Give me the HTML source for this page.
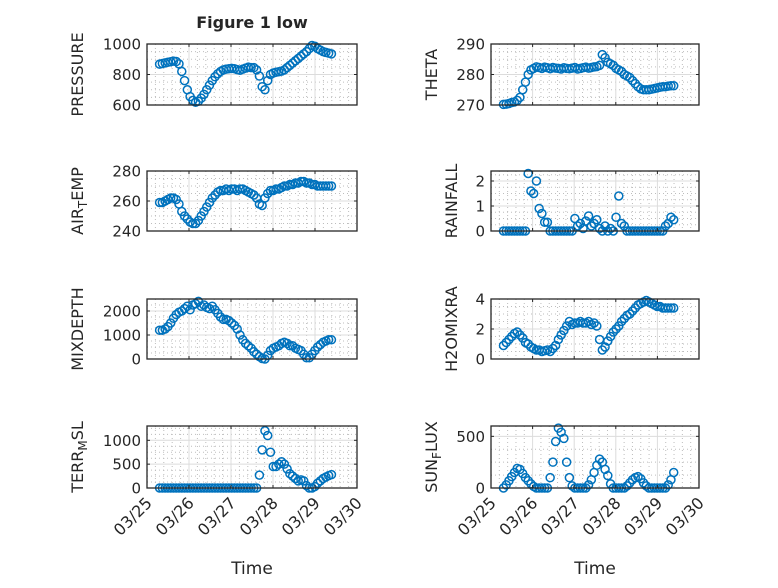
<!DOCTYPE html>
<html><head><meta charset="utf-8"><style>
html,body{margin:0;padding:0;background:#fff;}
svg text{font-family:"DejaVu Sans","Liberation Sans",sans-serif;fill:#262626;}
</style></head><body>
<svg id="fig" width="778" height="583" viewBox="0 0 778 583" xmlns="http://www.w3.org/2000/svg">
<rect width="778" height="583" fill="#fff"/>
<text x="252" y="28" text-anchor="middle" font-size="16" font-weight="bold">Figure 1 low</text>
</svg>
<script>
const dateTicks = ["03/25","03/26","03/27","03/28","03/29","03/30"];
const tStart = 0.3;
const tStep = 0.066;
const pressure = [868,872,876,880,884,888,885,870,820,760,700,655,630,618,625,645,670,700,730,760,785,805,820,830,835,838,840,838,832,828,835,842,848,845,845,830,790,720,700,760,800,810,815,818,822,830,845,860,875,890,905,920,935,950,970,990,985,970,960,950,945,940,935];
const theta = [270.2,270.3,270.5,270.8,271,271.5,272.5,275,277.5,280,281.5,282,282.5,282.3,282,282.4,282.2,281.9,282.3,282.1,282,281.8,282.2,282,281.9,282.1,282.3,281.8,282,282.2,282.4,282.1,282.3,282.5,282.6,283,286.5,285.5,284,283.5,283,282,281.5,281,280,279.5,279,278,277,276,275.3,275,275,275,275.2,275.4,275.6,275.8,276,276,276.2,276.3,276.3];
const airTemp = [259,259,260,261,262,262,261,258,253,250,248,246,245,245,247,250,253,256,259,262,264,266,267,267,268,267,268,268,267,268,268,267,266,265,264,262,258,257,262,265,267,267,268,268,269,270,270,271,271,272,272,273,273,272,272,271,271,270,270,270,270,270,270];
const rainfall = [0,0,0,0,0,0,0,0,0,2.3,1.6,1.5,2.0,0.9,0.7,0.35,0.35,0,0,0,0,0,0,0,0,0,0.5,0.2,0.3,0.1,0.4,0.6,0.2,0.3,0.45,0.1,0,0.2,0,0.1,0,0.55,1.4,0.3,0.2,0,0,0,0,0,0,0,0,0,0,0,0,0,0,0.2,0.3,0.55,0.45];
const mixDepth = [1200,1200,1250,1350,1500,1700,1850,1950,2000,2100,2200,2050,2250,2300,2400,2200,2250,2150,2100,2200,2050,1900,1750,1650,1650,1600,1500,1400,1250,1000,800,650,550,450,300,200,100,20,0,150,350,450,500,550,650,700,650,550,550,450,400,350,200,50,50,200,350,500,600,700,750,800,800];
const h2oMixRatio = [0.9,1.1,1.3,1.5,1.7,1.8,1.6,1.4,1.1,1.0,0.8,0.7,0.6,0.6,0.5,0.55,0.6,0.5,0.7,0.9,1.3,1.6,1.9,2.2,2.5,2.3,2.4,2.4,2.5,2.4,2.4,2.5,2.3,2.4,2.2,1.3,0.6,0.8,1.2,1.5,1.8,2.0,2.2,2.5,2.7,2.9,3.0,3.2,3.4,3.6,3.7,3.8,3.9,3.8,3.7,3.6,3.5,3.5,3.4,3.4,3.4,3.4,3.4];
const terrMsl = [0,0,0,0,0,0,0,0,0,0,0,0,0,0,0,0,0,0,0,0,0,0,0,0,0,0,0,0,0,0,0,0,0,0,0,0,270,800,1200,1100,750,450,450,500,550,500,400,300,250,200,150,170,150,50,0,0,30,100,150,200,230,260,280];
const sunFlux = [0,30,70,110,150,190,180,140,100,70,40,15,0,0,0,0,0,100,250,450,580,540,480,250,100,20,0,0,0,0,0,30,80,150,220,280,250,180,120,40,0,0,0,0,0,20,50,80,100,110,90,50,20,0,0,0,0,0,0,0,30,80,150];

const NS="http://www.w3.org/2000/svg";
const svg=document.getElementById('fig');
function mk(tag,attrs,parent){const e=document.createElementNS(NS,tag);for(const k in attrs)e.setAttribute(k,attrs[k]);(parent||svg).appendChild(e);return e;}

const panels=[
 {key:'pressure',data:pressure,label:['PRESSURE'],x0:147,x1:357,y0:44,y1:105,ymin:600,ymax:1000,ticks:[600,800,1000],ylx:83,bottom:false},
 {key:'theta',data:theta,label:['THETA'],x0:491,x1:699,y0:44,y1:105,ymin:270,ymax:290,ticks:[270,280,290],ylx:437,bottom:false},
 {key:'air-temp',data:airTemp,label:['AIR','T','EMP'],x0:147,x1:357,y0:171,y1:231,ymin:240,ymax:280,ticks:[240,260,280],ylx:83,bottom:false},
 {key:'rainfall',data:rainfall,label:['RAINFALL'],x0:491,x1:699,y0:171,y1:231,ymin:0,ymax:2.4,ticks:[0,1,2],ylx:457,bottom:false},
 {key:'mixdepth',data:mixDepth,label:['MIXDEPTH'],x0:147,x1:357,y0:299,y1:359,ymin:0,ymax:2500,ticks:[0,1000,2000],ylx:83,bottom:false},
 {key:'h2o-mixratio',data:h2oMixRatio,label:['H2OMIXRA'],x0:491,x1:699,y0:299,y1:359,ymin:0,ymax:4,ticks:[0,2,4],ylx:457,bottom:false},
 {key:'terr-msl',data:terrMsl,label:['TERR','M','SL'],x0:147,x1:357,y0:426,y1:488,ymin:0,ymax:1300,ticks:[0,500,1000],ylx:83,bottom:true},
 {key:'sun-flux',data:sunFlux,label:['SUN','F','LUX'],x0:491,x1:699,y0:426,y1:488,ymin:0,ymax:600,ticks:[0,500],ylx:437,bottom:true}
];

panels.forEach(p=>{
  const g=mk('g',{});
  
  
  const nd=dateTicks.length-1;
  const xs=t=>p.x0+(p.x1-p.x0)*t/nd;
  const ys=v=>p.y1-(p.y1-p.y0)*(v-p.ymin)/(p.ymax-p.ymin);
  mk('rect',{x:p.x0,y:p.y0,width:p.x1-p.x0,height:p.y1-p.y0,fill:'#fff'},g);
  for(let d=0;d<nd;d++)for(let k=1;k<5;k++){const x=xs(d+k/5);mk('line',{x1:x,x2:x,y1:p.y0,y2:p.y1,stroke:'#bdbdbd','stroke-width':1,'stroke-dasharray':'1 3'},g);}
  const tstep=p.ticks[1]-p.ticks[0];
  for(let v=p.ticks[0]-tstep;v<p.ymax;v+=tstep)for(let k=1;k<4;k++){const vv=v+k*tstep/4;if(vv<=p.ymin||vv>=p.ymax)continue;const y=ys(vv);mk('line',{x1:p.x0,x2:p.x1,y1:y,y2:y,stroke:'#bdbdbd','stroke-width':1,'stroke-dasharray':'1 3'},g);}
  for(let d=1;d<nd;d++){const x=xs(d);mk('line',{x1:x,x2:x,y1:p.y0,y2:p.y1,stroke:'#dcdcdc','stroke-width':1},g);}
  p.ticks.forEach(v=>{const y=ys(v);if(v>p.ymin&&v<p.ymax)mk('line',{x1:p.x0,x2:p.x1,y1:y,y2:y,stroke:'#dcdcdc','stroke-width':1},g);});
  p.data.forEach((v,i)=>{
    const c=mk('circle',{cx:xs(tStart+i*tStep).toFixed(2),cy:ys(v).toFixed(2),r:4,fill:'none',stroke:'#0072BD','stroke-width':1.5},g);
    
    
  });
  mk('rect',{x:p.x0,y:p.y0,width:p.x1-p.x0,height:p.y1-p.y0,fill:'none',stroke:'#262626','stroke-width':1.3},g);
  for(let d=0;d<=nd;d++){const x=xs(d);mk('line',{x1:x,x2:x,y1:p.y1,y2:p.y1-3,stroke:'#262626'},g);mk('line',{x1:x,x2:x,y1:p.y0,y2:p.y0+3,stroke:'#262626'},g);}
  p.ticks.forEach(v=>{
    const y=ys(v);
    mk('line',{x1:p.x0,x2:p.x0+3,y1:y,y2:y,stroke:'#262626'},g);
    mk('line',{x1:p.x1,x2:p.x1-3,y1:y,y2:y,stroke:'#262626'},g);
    const t=mk('text',{x:p.x0-6,y:y+5.5,'text-anchor':'end','font-size':15},g);
    
    
    t.textContent=String(v);
  });
  const cy=(p.y0+p.y1)/2;
  const yl=mk('text',{x:p.ylx,y:cy,'text-anchor':'middle','font-size':16,transform:`rotate(-90 ${p.ylx} ${cy})`},g);
  
  
  if(p.label.length===1){yl.textContent=p.label[0];}
  else{
    const a=mk('tspan',{},yl);a.textContent=p.label[0];
    const b=mk('tspan',{dy:4,'font-size':12},yl);b.textContent=p.label[1];
    const c=mk('tspan',{dy:-4,'font-size':16},yl);c.textContent=p.label[2];
  }
  if(p.bottom){
    dateTicks.forEach((s,d)=>{
      const x=xs(d)+6,y=p.y1+16;
      const t=mk('text',{x:x,y:y,'text-anchor':'end','font-size':16,transform:`rotate(-45 ${x} ${y})`},g);
      
      
      t.textContent=s;
    });
    const xt=mk('text',{x:(p.x0+p.x1)/2,y:574,'text-anchor':'middle','font-size':17},g);
    
    
    xt.textContent='Time';
  }
});
</script>
</body></html>
